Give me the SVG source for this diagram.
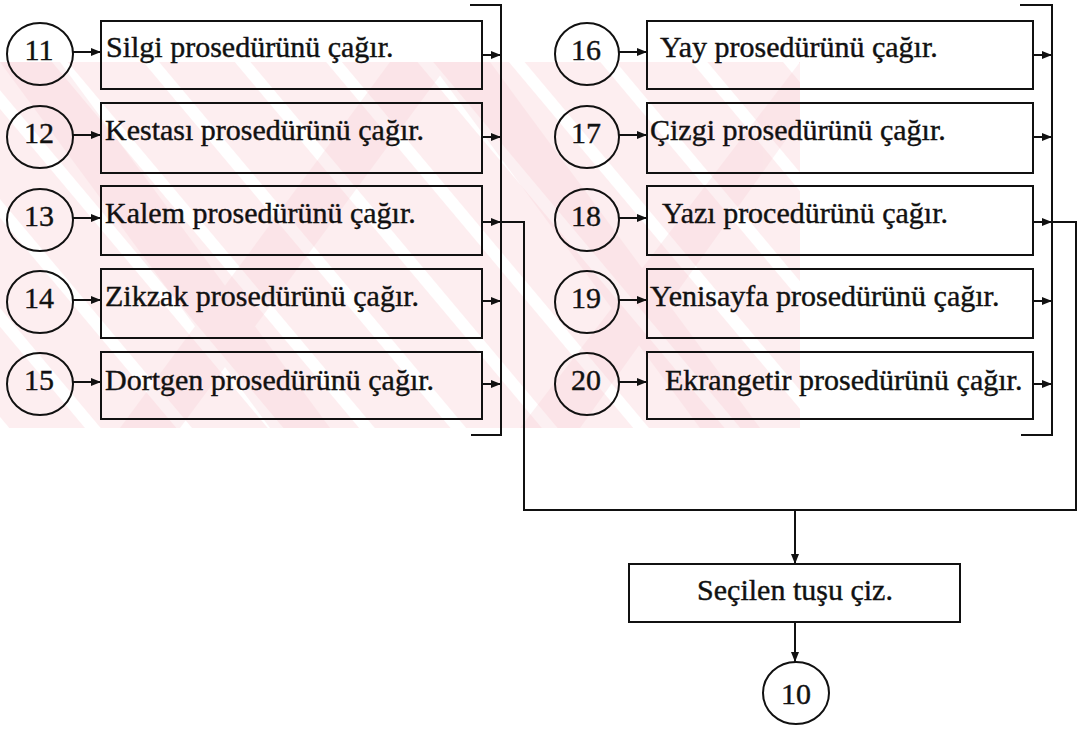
<svg xmlns="http://www.w3.org/2000/svg" width="1078" height="729" viewBox="0 0 1078 729">
  <defs>
    <style>
      .box { fill: none; stroke: #111; stroke-width: 2; }
      .ring { fill: none; stroke: #111; stroke-width: 2; }
      .wire { fill: none; stroke: #111; stroke-width: 2; }
      .lbl { font-family: "Liberation Serif", "Times New Roman", serif; font-size: 30px; fill: #111; stroke: #111; stroke-width: 0.4; }
      .num { font-family: "Liberation Serif", "Times New Roman", serif; font-size: 30px; fill: #111; stroke: #111; stroke-width: 0.4; text-anchor: middle; }
      .mid { text-anchor: middle; }
    </style>
    <marker id="head" viewBox="0 0 10 8" refX="10" refY="4" markerWidth="10" markerHeight="8" markerUnits="userSpaceOnUse" orient="auto">
      <path d="M0,0 L10,4 L0,8 z" fill="#111"/>
    </marker>
    <pattern id="stripes" width="70" height="70" patternUnits="userSpaceOnUse" patternTransform="rotate(-40)">
      <rect width="70" height="70" fill="#fdeef0"/>
      <rect x="0" y="0" width="12" height="70" fill="#ffffff"/>
    </pattern>
    <clipPath id="wmclip">
      <rect x="0" y="62" width="800" height="366"/>
    </clipPath>
  </defs>

  <rect width="1078" height="729" fill="#ffffff"/>

  <!-- background watermark band -->
  <g id="watermark" clip-path="url(#wmclip)">
    <rect x="0" y="62" width="800" height="366" fill="url(#stripes)"/>
    <g fill="#f8d0d6" opacity="0.3">
      <path d="M0,62 L60,62 L330,428 L270,428 z"/>
      <path d="M390,62 L450,62 L180,428 L120,428 z"/>
      <path d="M430,62 L490,62 L760,428 L700,428 z"/>
      <path d="M800,62 L800,120 L580,428 L520,428 z"/>
    </g>
  </g>

  <!-- connectors -->
  <g id="connectors">
    <!-- circle to box, left column -->
    <line class="wire" x1="72" y1="52" x2="101" y2="52" marker-end="url(#head)"/>
    <line class="wire" x1="72" y1="135" x2="101" y2="135" marker-end="url(#head)"/>
    <line class="wire" x1="72" y1="218" x2="101" y2="218" marker-end="url(#head)"/>
    <line class="wire" x1="72" y1="300" x2="101" y2="300" marker-end="url(#head)"/>
    <line class="wire" x1="72" y1="382" x2="101" y2="382" marker-end="url(#head)"/>
    <!-- circle to box, right column -->
    <line class="wire" x1="619" y1="52" x2="647" y2="52" marker-end="url(#head)"/>
    <line class="wire" x1="619" y1="135" x2="647" y2="135" marker-end="url(#head)"/>
    <line class="wire" x1="619" y1="218" x2="647" y2="218" marker-end="url(#head)"/>
    <line class="wire" x1="619" y1="300" x2="647" y2="300" marker-end="url(#head)"/>
    <line class="wire" x1="619" y1="382" x2="647" y2="382" marker-end="url(#head)"/>
    <!-- box to left bus -->
    <line class="wire" x1="482" y1="55" x2="501" y2="55" marker-end="url(#head)"/>
    <line class="wire" x1="482" y1="137" x2="501" y2="137" marker-end="url(#head)"/>
    <line class="wire" x1="482" y1="222" x2="501" y2="222" marker-end="url(#head)"/>
    <line class="wire" x1="482" y1="301" x2="501" y2="301" marker-end="url(#head)"/>
    <line class="wire" x1="482" y1="384" x2="501" y2="384" marker-end="url(#head)"/>
    <!-- box to right bus -->
    <line class="wire" x1="1033" y1="55" x2="1052" y2="55" marker-end="url(#head)"/>
    <line class="wire" x1="1033" y1="137" x2="1052" y2="137" marker-end="url(#head)"/>
    <line class="wire" x1="1033" y1="222" x2="1052" y2="222" marker-end="url(#head)"/>
    <line class="wire" x1="1033" y1="301" x2="1052" y2="301" marker-end="url(#head)"/>
    <line class="wire" x1="1033" y1="384" x2="1052" y2="384" marker-end="url(#head)"/>
    <!-- bus brackets -->
    <polyline class="wire" points="470,5 501,5 501,435 471,435"/>
    <polyline class="wire" points="1020,5 1052,5 1052,435 1021,435"/>
    <!-- collectors to the shared line -->
    <polyline class="wire" points="501,222 524,222 524,510 1076,510 1076,222 1052,222"/>
    <line class="wire" x1="795" y1="510" x2="795" y2="564" marker-end="url(#head)"/>
    <line class="wire" x1="795" y1="622" x2="795" y2="662" marker-end="url(#head)"/>
  </g>

  <!-- left column -->
  <g id="n11">
    <ellipse class="ring" cx="40" cy="54" rx="33" ry="31"/>
    <text class="num" x="39" y="60">11</text>
  </g>
  <g id="b11">
    <rect class="box" x="101" y="21" width="381" height="68"/>
    <text class="lbl" x="106" y="57">Silgi prosedürünü çağır.</text>
  </g>
  <g id="n12">
    <ellipse class="ring" cx="40" cy="137" rx="33" ry="31"/>
    <text class="num" x="39" y="143">12</text>
  </g>
  <g id="b12">
    <rect class="box" x="101" y="103" width="381" height="70"/>
    <text class="lbl" x="105" y="140">Kestası prosedürünü çağır.</text>
  </g>
  <g id="n13">
    <ellipse class="ring" cx="40" cy="220" rx="33" ry="31"/>
    <text class="num" x="39" y="226">13</text>
  </g>
  <g id="b13">
    <rect class="box" x="101" y="186" width="381" height="69"/>
    <text class="lbl" x="105" y="223">Kalem prosedürünü çağır.</text>
  </g>
  <g id="n14">
    <ellipse class="ring" cx="40" cy="302" rx="33" ry="31"/>
    <text class="num" x="39" y="308">14</text>
  </g>
  <g id="b14">
    <rect class="box" x="101" y="269" width="381" height="69"/>
    <text class="lbl" x="105" y="306">Zikzak prosedürünü çağır.</text>
  </g>
  <g id="n15">
    <ellipse class="ring" cx="40" cy="384" rx="33" ry="31"/>
    <text class="num" x="39" y="390">15</text>
  </g>
  <g id="b15">
    <rect class="box" x="101" y="352" width="381" height="67"/>
    <text class="lbl" x="105" y="390">Dortgen prosedürünü çağır.</text>
  </g>

  <!-- right column -->
  <g id="n16">
    <ellipse class="ring" cx="587" cy="54" rx="32" ry="31"/>
    <text class="num" x="586" y="60">16</text>
  </g>
  <g id="b16">
    <rect class="box" x="647" y="21" width="386" height="68"/>
    <text class="lbl" x="660" y="57">Yay prosedürünü çağır.</text>
  </g>
  <g id="n17">
    <ellipse class="ring" cx="587" cy="137" rx="32" ry="31"/>
    <text class="num" x="586" y="143">17</text>
  </g>
  <g id="b17">
    <rect class="box" x="647" y="103" width="386" height="70"/>
    <text class="lbl" x="650" y="140">Çizgi prosedürünü çağır.</text>
  </g>
  <g id="n18">
    <ellipse class="ring" cx="587" cy="220" rx="32" ry="31"/>
    <text class="num" x="586" y="226">18</text>
  </g>
  <g id="b18">
    <rect class="box" x="647" y="186" width="386" height="69"/>
    <text class="lbl" x="662" y="223">Yazı procedürünü çağır.</text>
  </g>
  <g id="n19">
    <ellipse class="ring" cx="587" cy="302" rx="32" ry="31"/>
    <text class="num" x="586" y="308">19</text>
  </g>
  <g id="b19">
    <rect class="box" x="647" y="269" width="386" height="69"/>
    <text class="lbl" x="650" y="306">Yenisayfa prosedürünü çağır.</text>
  </g>
  <g id="n20">
    <ellipse class="ring" cx="587" cy="384" rx="32" ry="31"/>
    <text class="num" x="586" y="390">20</text>
  </g>
  <g id="b20">
    <rect class="box" x="647" y="352" width="386" height="67"/>
    <text class="lbl" x="665" y="390">Ekrangetir prosedürünü çağır.</text>
  </g>

  <!-- final step -->
  <g id="draw-key">
    <rect class="box" x="629" y="564" width="331" height="58"/>
    <text class="lbl mid" x="795" y="600">Seçilen tuşu çiz.</text>
  </g>
  <g id="n10">
    <ellipse class="ring" cx="796" cy="693" rx="33" ry="31"/>
    <text class="num" x="796" y="704">10</text>
  </g>
</svg>
